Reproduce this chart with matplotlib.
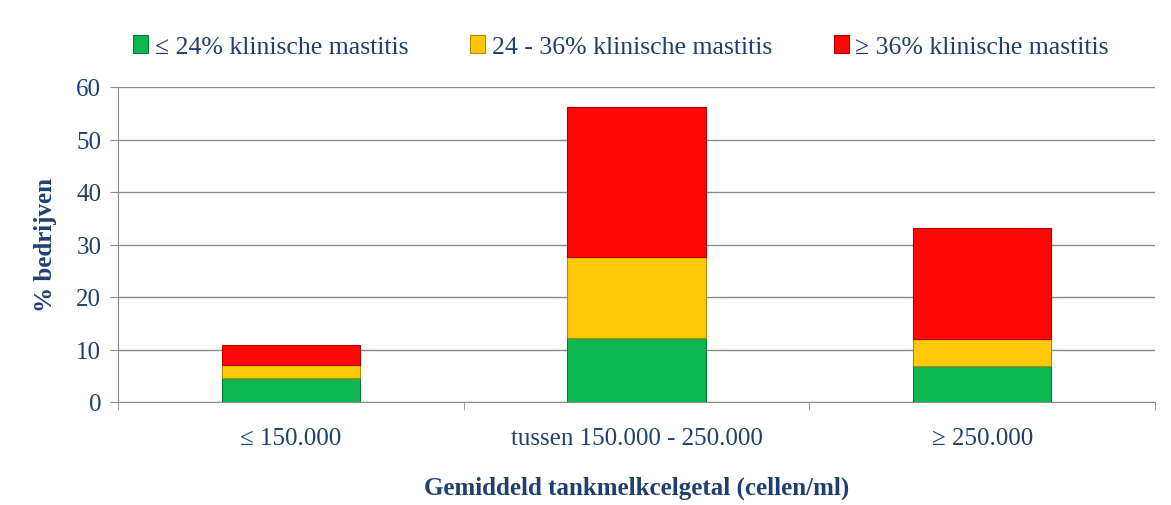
import matplotlib.pyplot as plt
import numpy as np

# Data
categories = ['≤ 150.000', 'tussen 150.000 - 250.000', '≥ 250.000']
series_names = ['≤ 24% klinische mastitis', '24 - 36% klinische mastitis', '≥ 36% klinische mastitis']
low = [4.6, 12.1, 6.9]
mid = [2.4, 15.5, 5.1]
high = [3.9, 28.5, 21.1]

colors = ['#0DB851', '#FFC90A', '#FF0707']
edges = ['#0A7A38', '#B58A00', '#B00000']
text_color = '#1F3F6E'

plt.rcParams['font.family'] = ['Liberation Serif', 'DejaVu Serif']

fig = plt.figure(figsize=(11.71, 5.06), dpi=100)
ax = fig.add_axes([118 / 1171, 1 - 403 / 506, (1155 - 118) / 1171, (403 - 88) / 506])

x = np.arange(len(categories))
bottom = np.zeros(len(categories))
for vals, name, c, e in zip([low, mid, high], series_names, colors, edges):
    ax.bar(x, vals, width=0.4, bottom=bottom, color=c, edgecolor=e, linewidth=0.8,
           label=name, zorder=3)
    bottom += np.array(vals)

ax.set_xlim(-0.5, 2.5)
ax.set_ylim(0, 60)
ax.set_yticks(range(0, 61, 10))
ax.yaxis.grid(True, color='#8C8C8C', linewidth=1, zorder=0)

ax.set_xticks(x)
ax.set_xticklabels(categories)
ax.set_xticks([-0.5, 0.5, 1.5, 2.5], minor=True)
ax.tick_params(axis='x', which='major', length=0, pad=18, labelsize=18, labelcolor=text_color)
ax.tick_params(axis='x', which='minor', length=6, color='#8C8C8C', direction='out')
ax.tick_params(axis='y', length=6, color='#8C8C8C', labelsize=18, labelcolor=text_color, pad=6)

for s in ['top', 'right']:
    ax.spines[s].set_visible(False)
for s in ['left', 'bottom']:
    ax.spines[s].set_color('#8C8C8C')

ax.set_ylabel('% bedrijven', fontsize=18, fontweight='bold', color=text_color, labelpad=14)
ax.set_xlabel('Gemiddeld tankmelkcelgetal (cellen/ml)', fontsize=18, fontweight='bold',
              color=text_color, labelpad=19)

leg = ax.legend(loc='lower center', bbox_to_anchor=(0.485, 1.02), ncol=3, frameon=False,
                fontsize=18.5, handlelength=0.6, handleheight=0.7, handletextpad=0.25,
                columnspacing=2.4)
for t in leg.get_texts():
    t.set_color(text_color)

fig.savefig('out.png', dpi=100)
